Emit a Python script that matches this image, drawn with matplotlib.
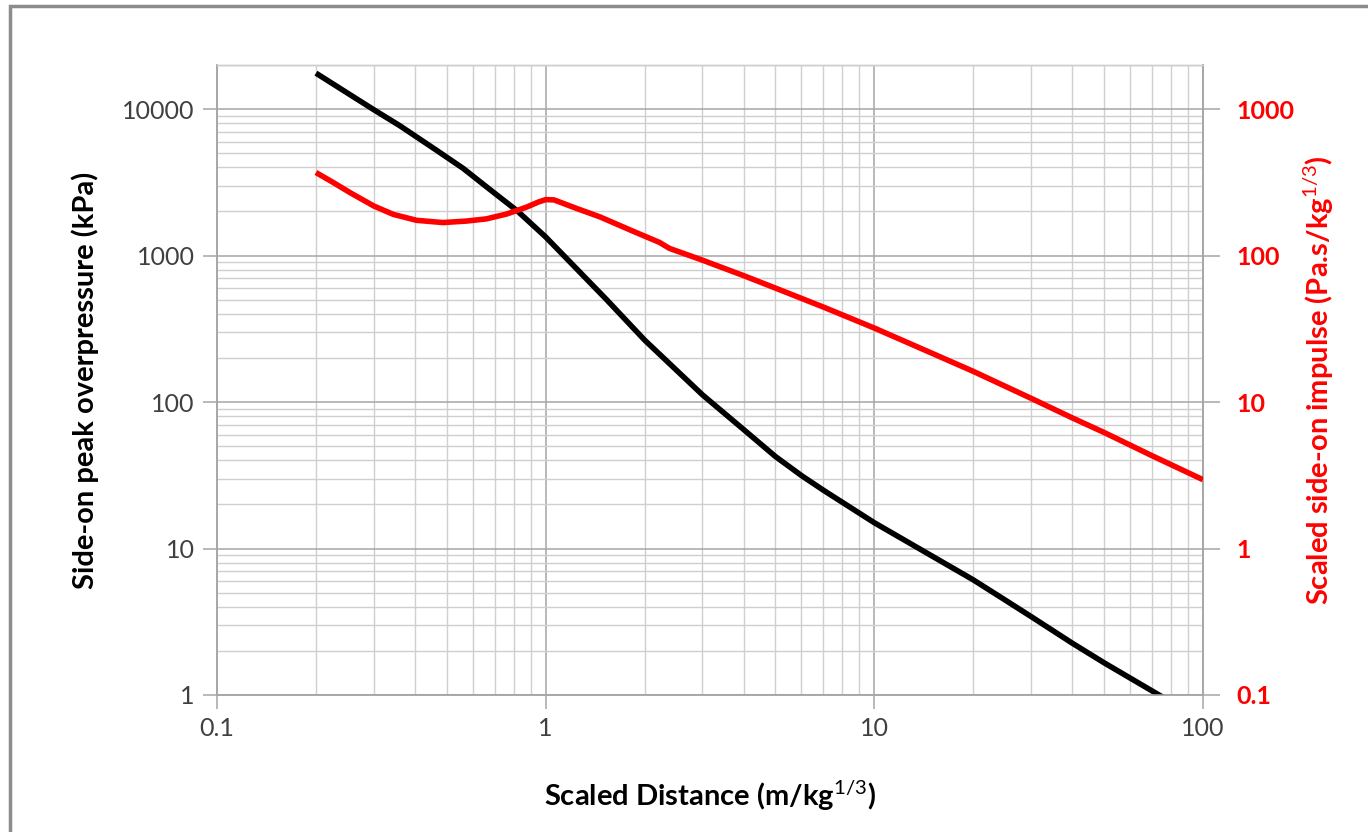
import numpy as np
import matplotlib
matplotlib.use("Agg")
import matplotlib.pyplot as plt
from matplotlib.patches import Rectangle
from matplotlib.ticker import FixedLocator, FuncFormatter, NullLocator

plt.rcParams['font.family'] = ['Lato', 'DejaVu Sans']
plt.rcParams['mathtext.fontset'] = 'custom'
plt.rcParams['mathtext.rm'] = 'Lato'
plt.rcParams['mathtext.bf'] = 'Lato:bold'

# scaled distance (m/kg^1/3) and side-on peak overpressure (kPa)
z_pressure = [0.2, 0.3, 0.36, 0.46, 0.56, 0.68, 0.82, 1.0, 1.53, 2.0, 3.0, 4.0, 5.0,
              6.0, 7.0, 10.0, 20.0, 25.0, 30.0, 40.0, 50.0, 73.5, 100.0]
pressure = [17600, 9900, 7700, 5330, 3950, 2800, 2017, 1340, 502, 265, 112, 65, 42.5,
            31.5, 25, 15.0, 6.11, 4.45, 3.43, 2.26, 1.66, 1.0, 0.667]

# scaled distance and scaled side-on impulse (Pa.s/kg^1/3)
z_impulse = [0.2, 0.226, 0.254, 0.3, 0.344, 0.405, 0.487, 0.574, 0.66, 0.76, 0.874,
             0.95, 1.0, 1.06, 1.24, 1.46, 1.84, 2.22, 2.38, 3.0, 4.0, 5.0, 7.0, 10.0,
             15.0, 20.0, 30.0, 40.0, 50.0, 70.0, 100.0]
impulse = [369, 315, 269, 218, 191, 174, 168, 172, 178, 192, 214,
           232, 241, 240, 210, 184, 147, 123, 112, 93, 73, 60, 44.5, 32,
           21.5, 16.2, 10.6, 7.8, 6.2, 4.3, 2.95]

x_ticks = [0.1, 1, 10, 100]
left_ticks = [1, 10, 100, 1000, 10000]
right_ticks = [0.1, 1, 10, 100, 1000]

fig = plt.figure(figsize=(13.68, 8.32), dpi=100)
ax = fig.add_axes([217 / 1368, 1 - 695 / 832, (1203 - 217) / 1368, (695 - 65) / 832])
ax2 = ax.twinx()

fmt = FuncFormatter(lambda v, p: '{:g}'.format(v))
minors = [m * 10.0 ** e for e in range(-2, 5) for m in range(2, 10)]

ax.set_xscale('log')
ax.set_yscale('log')
ax.set_xlim(0.1, 100)
ax.set_ylim(1, 20000)
ax.xaxis.set_major_locator(FixedLocator(x_ticks))
ax.yaxis.set_major_locator(FixedLocator(left_ticks))
ax.xaxis.set_major_formatter(fmt)
ax.yaxis.set_major_formatter(fmt)
ax.xaxis.set_minor_locator(FixedLocator(minors))
ax.yaxis.set_minor_locator(FixedLocator(minors))
ax.grid(True, which='major', color='#a6a6a6', linewidth=1.1)
ax.grid(True, which='minor', color='#cfcfcf', linewidth=1.0)
ax.set_axisbelow(True)
ax.tick_params(which='minor', length=0)
ax.tick_params(which='major', direction='out', length=10, width=1.1, color='#a6a6a6',
               labelsize=18, labelcolor='#404040', pad=6)

ax.plot(z_pressure, pressure, color='black', linewidth=4, solid_capstyle='butt',
        solid_joinstyle='round', zorder=3)

ax2.set_yscale('log')
ax2.set_ylim(0.1, 2000)
ax2.yaxis.set_major_locator(FixedLocator(right_ticks))
ax2.yaxis.set_minor_locator(NullLocator())
ax2.yaxis.set_major_formatter(fmt)
ax2.tick_params(which='major', direction='out', length=12, width=1.1, color='#a6a6a6',
                labelsize=18, labelcolor='#ff0000', pad=12)
for lab in ax2.get_yticklabels():
    lab.set_fontweight('bold')
ax2.plot(z_impulse, impulse, color='#ff0000', linewidth=4, solid_capstyle='butt',
         solid_joinstyle='round', zorder=3)

for a in (ax, ax2):
    for side in ('left', 'bottom', 'right'):
        a.spines[side].set_color('#a6a6a6')
        a.spines[side].set_linewidth(1.1)
    a.spines['top'].set_color('#cfcfcf')
    a.spines['top'].set_linewidth(1.0)

ax.set_xlabel('Scaled Distance (m/kg$^{1/3}$)', fontsize=21, fontweight='bold', labelpad=27)
ax.set_ylabel('Side-on peak overpressure (kPa)', fontsize=21, fontweight='bold', labelpad=17)
ax2.set_ylabel('Scaled side-on impulse (Pa.s/kg$^{1/3}$)', fontsize=21, fontweight='bold',
               color='#ff0000', labelpad=5)

fig.patches.append(Rectangle((10 / 1368, -0.2), 1.5, 1.2 - 6 / 832, transform=fig.transFigure,
                             fill=False, edgecolor='#8c8c8c', linewidth=2.5))

fig.savefig('out.png', dpi=100, facecolor='white')
